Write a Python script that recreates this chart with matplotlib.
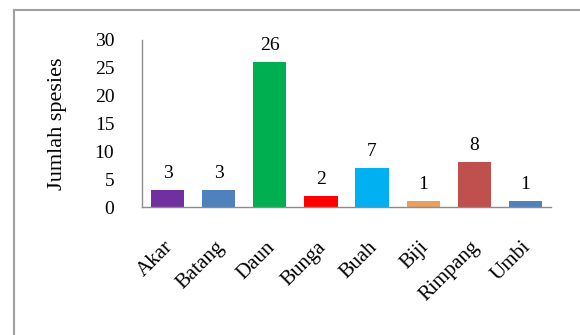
import matplotlib.pyplot as plt
import matplotlib.transforms as mtransforms
from matplotlib.lines import Line2D

categories = ["Akar", "Batang", "Daun", "Bunga", "Buah", "Biji", "Rimpang", "Umbi"]
counts = [3, 3, 26, 2, 7, 1, 8, 1]
bar_colors = ["#7030A0", "#4F81BD", "#00B050", "#FF0000", "#00B0F0",
              "#E8A060", "#C0504D", "#4F81BD"]
yticks = [0, 5, 10, 15, 20, 25, 30]


def main() -> None:
    plt.rcParams["font.family"] = ["Liberation Serif", "DejaVu Serif"]

    fig = plt.figure(figsize=(5.8, 3.35), dpi=100)
    ax = fig.add_axes([0.245, 0.382, 0.705, 0.499])

    x = range(len(categories))
    bars = ax.bar(x, counts, width=0.65, color=bar_colors)
    for bar, val in zip(bars, counts):
        ax.annotate(str(val), (bar.get_x() + bar.get_width() / 2, val),
                    xytext=(0, 6), textcoords="offset points",
                    ha="center", va="bottom", fontsize=14)

    ax.set_xlim(-0.5, len(categories) - 0.5)
    ax.set_ylim(0, 30)
    ax.set_yticks(yticks)
    ax.set_yticklabels([str(t) for t in yticks], fontsize=14)
    ax.set_xticks(list(x))
    ax.set_xticklabels(categories, rotation=45, ha="right",
                       rotation_mode="anchor", fontsize=15)
    ax.tick_params(axis="y", length=0, pad=20)
    ax.tick_params(axis="x", length=0, pad=22)
    shift = mtransforms.ScaledTranslation(-4 / 100, 0, fig.dpi_scale_trans)
    for lbl in ax.get_xticklabels():
        lbl.set_transform(lbl.get_transform() + shift)
    ax.set_ylabel("Jumlah spesies", fontsize=16, labelpad=20)

    for side in ("top", "right"):
        ax.spines[side].set_visible(False)
    for side in ("left", "bottom"):
        ax.spines[side].set_color("#8C8C8C")
        ax.spines[side].set_linewidth(1.0)

    # outer chart frame (only top and left edges are visible in the crop)
    fig.add_artist(Line2D([14 / 580, 1], [1 - 9.5 / 335] * 2,
                          transform=fig.transFigure, color="#A0A0A0", lw=1.5))
    fig.add_artist(Line2D([14 / 580] * 2, [0, 1 - 9.5 / 335],
                          transform=fig.transFigure, color="#A0A0A0", lw=1.5))

    fig.savefig("out.png", dpi=100)


if __name__ == "__main__":
    main()
